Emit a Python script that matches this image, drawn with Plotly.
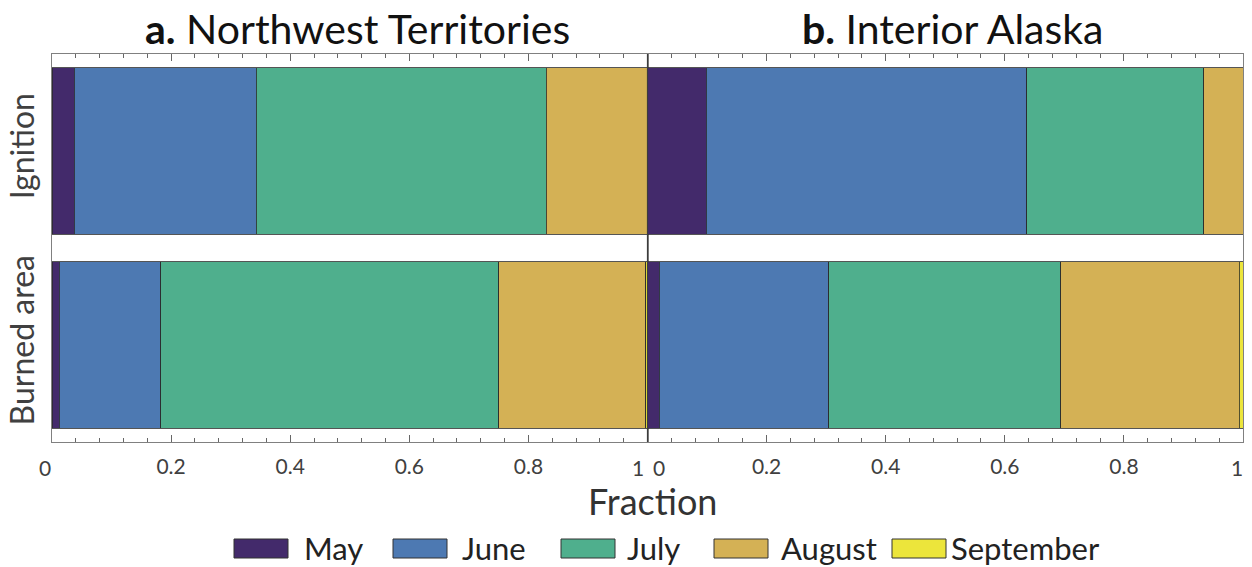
import plotly.graph_objects as go

W, H = 1252, 567

months = ["May", "June", "July", "August", "September"]
colors = ["#432a6b", "#4d79b2", "#4faf8d", "#d4b155", "#ece53b"]
categories = ["Ignition", "Burned area"]

# monthly fraction of ignitions / burned area, per region
nwt_ignition = [0.037, 0.306, 0.487, 0.170, 0.000]
nwt_burned = [0.012, 0.171, 0.567, 0.247, 0.003]
ak_ignition = [0.099, 0.538, 0.297, 0.066, 0.000]
ak_burned = [0.020, 0.284, 0.390, 0.300, 0.006]

panel_titles = ["<b>a.</b> Northwest Territories", "<b>b.</b> Interior Alaska"]
x_ticks = [0, 0.2, 0.4, 0.6, 0.8, 1.0]
x_ticktext = ["", "0.2", "0.4", "0.6", "0.8", ""]
# end labels nudged sideways so the two panels' 1 and 0 don't collide
edge_labels = [("x", 0, "0", -7), ("x", 1, "1", -10), ("x2", 0, "0", 11), ("x2", 1, "1", -6)]

FONT = "Lato"

def px(x):
    return x / W

def py(y):
    return 1 - y / H

fig = go.Figure()

panels = [(nwt_ignition, nwt_burned, "x", "y"), (ak_ignition, ak_burned, "x2", "y2")]
for ign, brn, xa, ya in panels:
    for i, m in enumerate(months):
        fig.add_trace(go.Bar(
            x=[ign[i], brn[i]], y=categories, orientation="h",
            name=m, marker=dict(color=colors[i], line=dict(color="#2a2a2a", width=0.8)),
            xaxis=xa, yaxis=ya, showlegend=False,
        ))

x_left, x_mid, x_right = 52, 647.5, 1243
y_top, y_bot = 54, 442

tick_font = dict(family=FONT, size=21, color="#404040")
axis_common = dict(
    range=[0, 1], tickvals=x_ticks, ticktext=x_ticktext, ticks="inside", ticklen=7, tickcolor="#666",
    showline=True, linecolor="#808080", linewidth=1, mirror="ticks",
    showgrid=False, zeroline=False, fixedrange=True, automargin=False,
    tickfont=tick_font,
    minor=dict(dtick=0.04, ticks="inside", ticklen=4, tickcolor="#666"),
    ticklabelstandoff=6,
)
yaxis_common = dict(
    categoryorder="array", categoryarray=["Burned area", "Ignition"],
    range=[-0.5, 1.5], showline=True, linecolor="#808080", linewidth=1,
    mirror=True, ticks="", showgrid=False, zeroline=False, fixedrange=True,
    automargin=False,
)

fig.update_layout(
    width=W, height=H, margin=dict(l=0, r=0, t=0, b=0, autoexpand=False),
    paper_bgcolor="white", plot_bgcolor="white",
    barmode="stack", bargap=0.14, showlegend=False,
    xaxis=dict(domain=[px(x_left), px(x_mid)], anchor="y", **axis_common),
    xaxis2=dict(domain=[px(x_mid), px(x_right)], anchor="y2", **axis_common),
    yaxis=dict(domain=[py(y_bot), py(y_top)], anchor="x", showticklabels=True,
               tickangle=-90, tickfont=dict(family=FONT, size=32, color="#404040"),
               ticklabelstandoff=4, **yaxis_common),
    yaxis2=dict(domain=[py(y_bot), py(y_top)], anchor="x2", showticklabels=False, **yaxis_common),
)

for xref, xv, txt, shift in edge_labels:
    fig.add_annotation(text=txt, x=xv, xref=xref, y=py(467), yref="paper",
                       xshift=shift, showarrow=False, xanchor="center", yanchor="middle",
                       font=tick_font)

# dark divider between the two panels
fig.add_shape(type="line", xref="paper", yref="paper",
              x0=px(x_mid), x1=px(x_mid), y0=py(y_bot), y1=py(y_top),
              line=dict(color="#3c3c3c", width=1.2))

# panel titles
for title, cx in zip(panel_titles, [357, 952]):
    fig.add_annotation(text=title, x=px(cx), y=py(28), xref="paper", yref="paper",
                       showarrow=False, xanchor="center", yanchor="middle",
                       font=dict(family=FONT, size=41, color="#111"))

# shared x-axis title
fig.add_annotation(text="Fraction", x=px(652), y=py(501), xref="paper", yref="paper",
                   showarrow=False, xanchor="center", yanchor="middle",
                   font=dict(family=FONT, size=36, color="#333"))

# legend row
legend_box_x = [234, 393, 561, 714, 892]
legend_text_x = [302, 460, 625, 779, 949]
for m, c, bx, tx in zip(months, colors, legend_box_x, legend_text_x):
    fig.add_shape(type="rect", xref="paper", yref="paper",
                  x0=px(bx), x1=px(bx + 54), y0=py(558), y1=py(539),
                  fillcolor=c, line=dict(color="#333", width=1))
    fig.add_annotation(text=m, x=px(tx), y=py(548), xref="paper", yref="paper",
                       showarrow=False, xanchor="left", yanchor="middle",
                       font=dict(family=FONT, size=31, color="#222"))

fig.write_html("out.html")
